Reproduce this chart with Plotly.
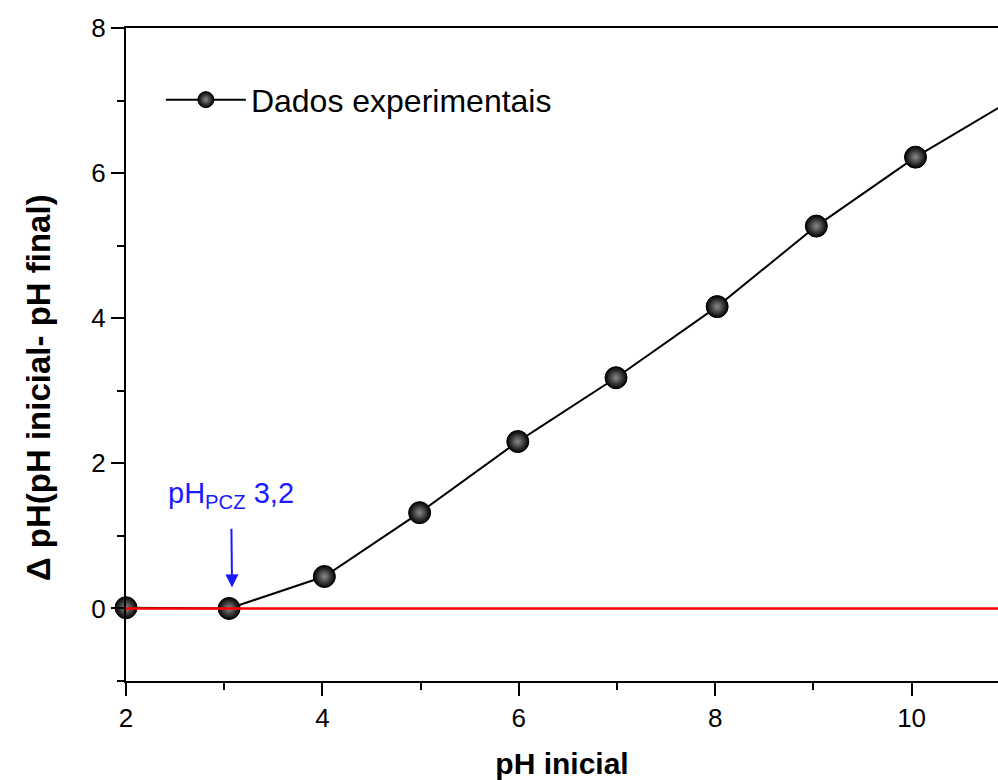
import plotly.graph_objects as go

ph_inicial = [2.00, 3.05, 4.02, 4.99, 5.99, 6.99, 8.02, 9.03, 10.04, 10.96]
delta_ph = [0.01, 0.00, 0.44, 1.32, 2.30, 3.18, 4.16, 5.27, 6.22, 6.96]
ref_x = [2.0, 11.5]
ref_y = [0.0, 0.0]
pcz_value = 3.2
pcz_tip = (3.08, 0.29)
pcz_label_pos = (3.07, 1.56)

FONT = "Liberation Sans, Arial, sans-serif"

fig = go.Figure()
fig.add_trace(go.Scatter(
    x=ph_inicial, y=delta_ph, mode="lines+markers",
    name="Dados experimentais",
    line=dict(color="black", width=2),
    marker=dict(size=22, color="black",
                gradient=dict(type="radial", color="#8a8a8a"),
                line=dict(color="black", width=1)),
    cliponaxis=False,
))
fig.add_trace(go.Scatter(
    x=ref_x, y=ref_y, mode="lines", showlegend=False,
    line=dict(color="#ff0000", width=2.5), hoverinfo="skip",
))

fig.add_annotation(
    x=pcz_tip[0], y=pcz_tip[1], ax=pcz_label_pos[0], ay=pcz_label_pos[1],
    xref="x", yref="y", axref="x", ayref="y",
    text="pH<sub>PCZ</sub> " + f"{pcz_value}".replace(".", ","),
    font=dict(family=FONT, size=29, color="#1a1aff"),
    showarrow=True, arrowhead=2, arrowsize=1.3, arrowwidth=2,
    arrowcolor="#1a1aff", startstandoff=14,
)

# y-axis title (placed as annotation to match the original's offset)
fig.add_annotation(
    x=-0.101, y=0.45, xref="paper", yref="paper",
    text="<b>Δ pH(pH inicial- pH final)</b>", textangle=-90,
    showarrow=False, xanchor="center", yanchor="middle",
    font=dict(family=FONT, size=33, color="black"),
)

axis_common = dict(
    showline=True, linecolor="black", linewidth=2,
    ticks="outside", tickwidth=2, tickcolor="black", ticklen=13,
    showgrid=False, zeroline=False,
    tickfont=dict(family=FONT, size=26, color="black"),
)

fig.update_xaxes(
    range=[2, 10.88], tick0=2, dtick=2, mirror=True,
    minor=dict(ticks="outside", ticklen=7, tickwidth=2, tickcolor="black", dtick=1, tick0=2, showgrid=False),
    title=dict(text="<b>pH inicial</b>", font=dict(family=FONT, size=30, color="black"), standoff=24),
    **axis_common,
)
fig.update_yaxes(
    range=[-1, 8], tick0=0, dtick=2,
    minor=dict(ticks="outside", ticklen=7, tickwidth=2, tickcolor="black", dtick=1, tick0=0, showgrid=False),
    **axis_common,
)

fig.update_layout(
    width=998, height=780,
    margin=dict(l=126, r=0, t=28, b=99),
    paper_bgcolor="white", plot_bgcolor="white",
    showlegend=True,
    legend=dict(x=0.04, y=0.89, xanchor="left", yanchor="middle",
                bgcolor="rgba(0,0,0,0)", itemwidth=80,
                font=dict(family=FONT, size=32, color="black")),
)

fig.write_html("out.html")
